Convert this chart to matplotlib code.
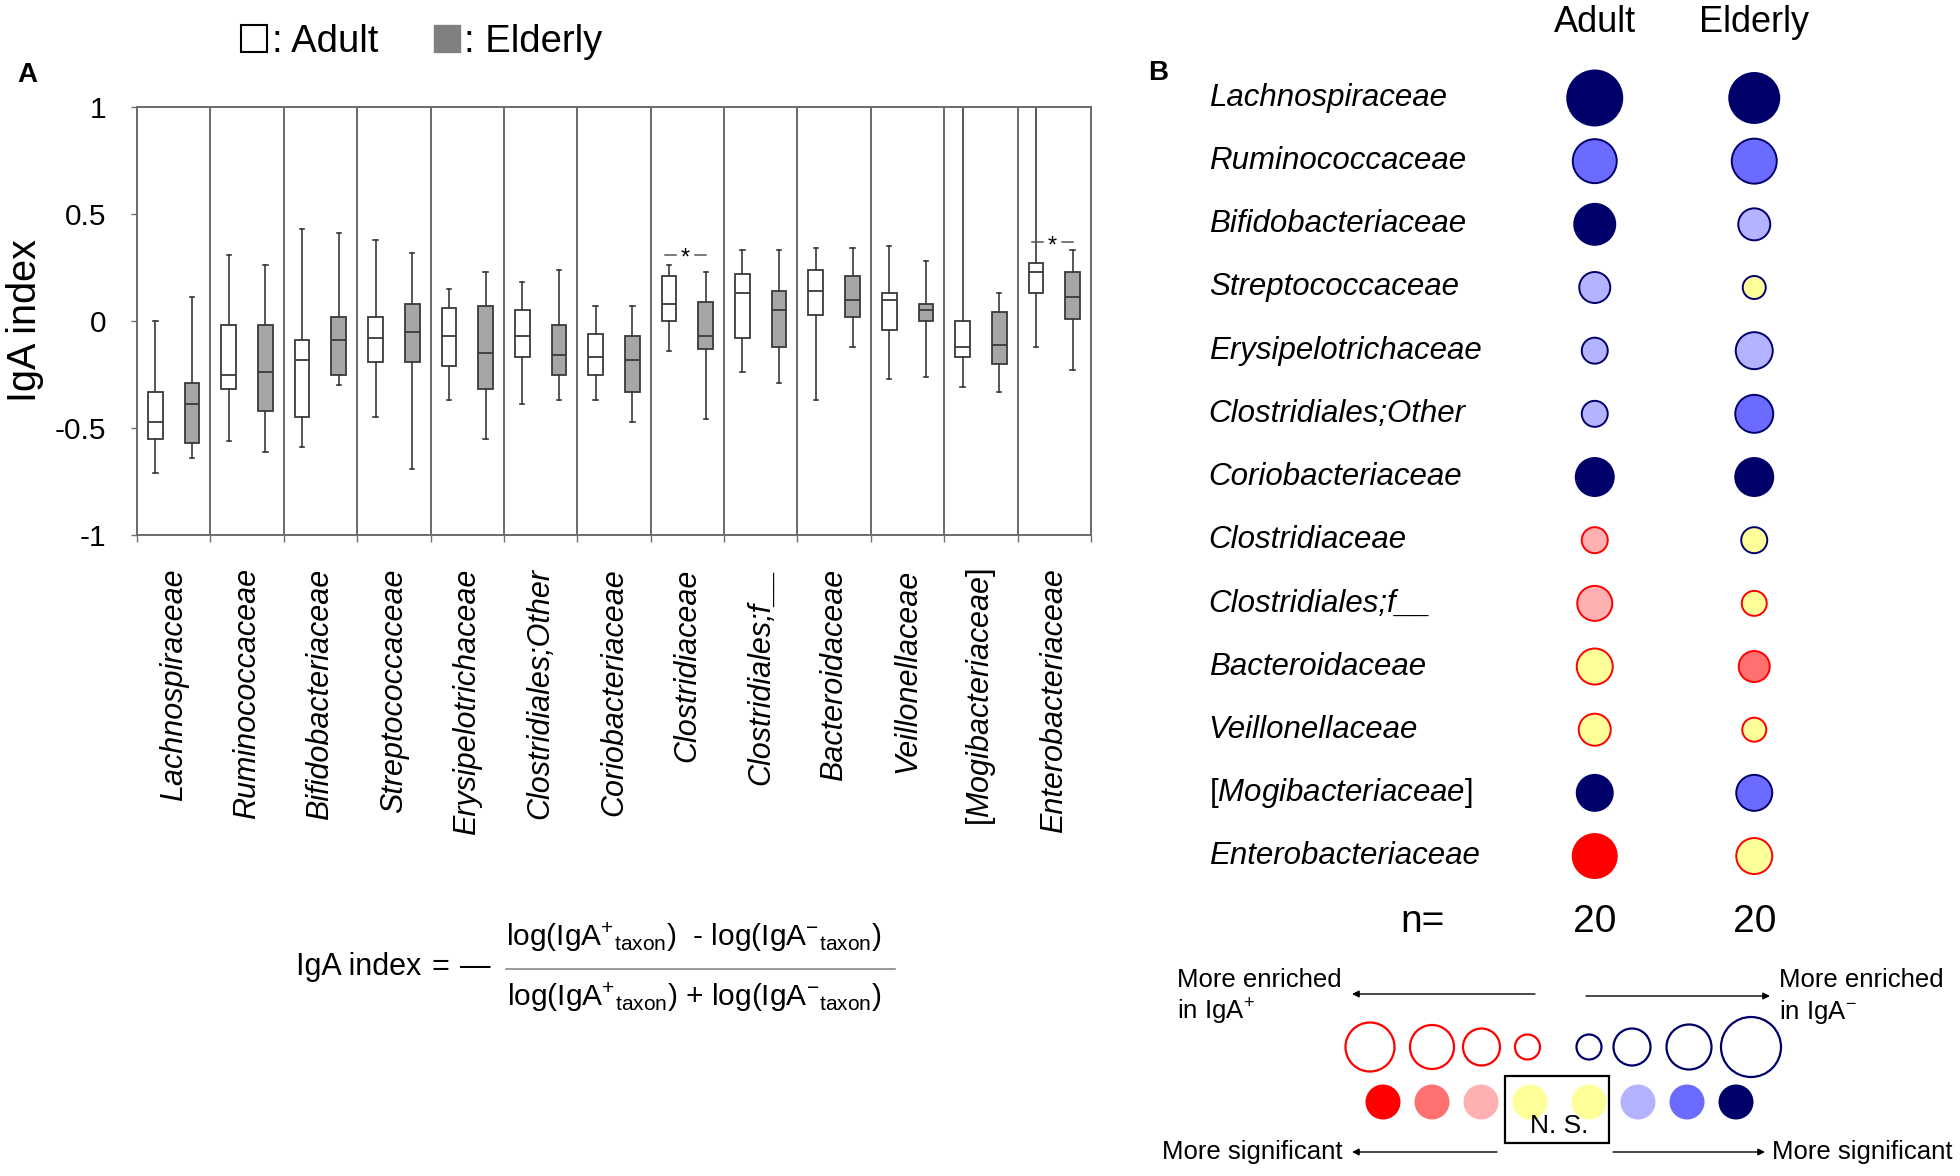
import numpy as np
import matplotlib
matplotlib.use("Agg")
import matplotlib.pyplot as plt
from matplotlib.patches import Patch, Rectangle
from matplotlib.lines import Line2D

plt.rcParams['font.family'] = ['Liberation Sans', 'DejaVu Sans']
plt.rcParams['mathtext.fontset'] = 'custom'
plt.rcParams['mathtext.rm'] = 'Liberation Sans'
plt.rcParams['mathtext.it'] = 'Liberation Sans:italic'

# ---- panel A data: box plot stats (whislo, q1, med, q3, whishi) ----
families = ['Lachnospiraceae', 'Ruminococcaceae', 'Bifidobacteriaceae',
            'Streptococcaceae', 'Erysipelotrichaceae', 'Clostridiales;Other',
            'Coriobacteriaceae', 'Clostridiaceae', 'Clostridiales;f__',
            'Bacteroidaceae', 'Veillonellaceae', '[Mogibacteriaceae]',
            'Enterobacteriaceae']
adult_box = [(-0.71, -0.55, -0.47, -0.33, 0.00),
             (-0.56, -0.32, -0.25, -0.02, 0.31),
             (-0.59, -0.45, -0.18, -0.09, 0.43),
             (-0.45, -0.19, -0.08, 0.02, 0.38),
             (-0.37, -0.21, -0.07, 0.06, 0.15),
             (-0.39, -0.17, -0.07, 0.05, 0.18),
             (-0.37, -0.25, -0.17, -0.06, 0.07),
             (-0.14, 0.00, 0.08, 0.21, 0.26),
             (-0.24, -0.08, 0.13, 0.22, 0.33),
             (-0.37, 0.03, 0.14, 0.24, 0.34),
             (-0.27, -0.04, 0.10, 0.13, 0.35),
             (-0.31, -0.17, -0.12, 0.00, 1.00),
             (-0.12, 0.13, 0.23, 0.27, 1.00)]
elderly_box = [(-0.64, -0.57, -0.39, -0.29, 0.11),
               (-0.61, -0.42, -0.24, -0.02, 0.26),
               (-0.30, -0.25, -0.09, 0.02, 0.41),
               (-0.69, -0.19, -0.05, 0.08, 0.32),
               (-0.55, -0.32, -0.15, 0.07, 0.23),
               (-0.37, -0.25, -0.16, -0.02, 0.24),
               (-0.47, -0.33, -0.18, -0.07, 0.07),
               (-0.46, -0.13, -0.07, 0.09, 0.23),
               (-0.29, -0.12, 0.05, 0.14, 0.33),
               (-0.12, 0.02, 0.10, 0.21, 0.34),
               (-0.26, 0.00, 0.05, 0.08, 0.28),
               (-0.33, -0.20, -0.11, 0.04, 0.13),
               (-0.23, 0.01, 0.11, 0.23, 0.33)]
sig_groups = [7, 12]
sig_y = [0.31, 0.37]

# ---- panel B data ----
# direction: '-' enriched in IgA-, '+' enriched in IgA+; level 0 = N.S.
adult_dir = ['-', '-', '-', '-', '-', '-', '-', '+', '+', '+', '+', '-', '+']
adult_level = [3, 2, 3, 1, 1, 1, 3, 1, 1, 0, 0, 3, 3]
adult_size = [55, 44, 41, 31, 26, 26, 38, 26, 35, 36, 32, 36, 44]
elderly_dir = ['-', '-', '-', '-', '-', '-', '-', '-', '+', '+', '+', '-', '+']
elderly_level = [3, 2, 1, 0, 1, 2, 3, 0, 0, 2, 0, 2, 0]
elderly_size = [50, 45, 32, 23, 37, 38, 38, 26, 25, 31, 24, 36, 36]
groups = ['Adult', 'Elderly']
n_samples = [20, 20]

key_outline_size = [49, 44, 37, 25, 25, 37, 45, 60]
key_outline_dir = ['+', '+', '+', '+', '-', '-', '-', '-']
key_fill_dir = ['+', '+', '+', '0', '0', '-', '-', '-']
key_fill_level = [3, 2, 1, 0, 0, 1, 2, 3]

NAVY = '#00006B'
RED = '#FF0000'
fill_colors = {'-': {1: '#B3B3FF', 2: '#6B6BFF', 3: NAVY},
               '+': {1: '#FFB0B0', 2: '#FF7070', 3: RED}}
YELLOW = '#FFFF99'


def fill_of(d, lev):
    return YELLOW if lev == 0 else fill_colors[d][lev]


def edge_of(d):
    return NAVY if d == '-' else RED


W, H = 1960, 1176
fig = plt.figure(figsize=(W / 100, H / 100), dpi=100)


def fx(px):
    return px / W


def fy(py):
    return 1 - py / H


# names in italics, square brackets upright
labels = ['[$\\mathit{' + f[1:-1] + '}$]' if f.startswith('[') else f for f in families]

# ================= panel A =================
ax = fig.add_axes([fx(137), fy(535), 954 / W, 428 / H])
x = np.arange(len(families))


def stats(rows):
    return [dict(whislo=r[0], q1=r[1], med=r[2], q3=r[3], whishi=r[4], fliers=[])
            for r in rows]


edge = '#3a3a3a'
for rows, off, face in [(adult_box, -0.25, 'white'), (elderly_box, 0.25, '#A6A6A6')]:
    ax.bxp(stats(rows), positions=x + off, widths=0.2, patch_artist=True,
           showfliers=False, manage_ticks=False, capwidths=0.06,
           boxprops=dict(facecolor=face, edgecolor=edge, lw=1.3),
           medianprops=dict(color=edge, lw=1.3),
           whiskerprops=dict(color=edge, lw=1.2),
           capprops=dict(color=edge, lw=1.2))

for b in x[:-1]:
    ax.axvline(b + 0.5, color='#6a6a6a', lw=1.4, zorder=0)

for g, yv in zip(sig_groups, sig_y):
    ax.plot([g - 0.3, g - 0.16], [yv, yv], color='#555555', lw=1.1)
    ax.plot([g + 0.11, g + 0.25], [yv, yv], color='#555555', lw=1.1)
    ax.text(g - 0.025, yv - 0.02, '*', ha='center', va='center', fontsize=17)

ax.set_xlim(-0.5, len(families) - 0.5)
ax.set_ylim(-1, 1)
ax.set_yticks([-1, -0.5, 0, 0.5, 1])
ax.set_yticklabels(['-1', '-0.5', '0', '0.5', '1'], fontsize=21.5)
ax.tick_params(axis='y', length=4, width=1, color='#707070', pad=18)
ax.set_xticks(np.arange(-0.5, len(families)), minor=False)
ax.set_xticklabels([])
ax.tick_params(axis='x', which='major', length=5, width=1, color='#707070')
ax.set_xticks(x, minor=True)
ax.set_xticklabels(labels, minor=True, rotation=90, fontsize=22, style='italic',
                   va='top')
for lbl, f in zip(ax.get_xticklabels(minor=True), families):
    if f.startswith('['):
        lbl.set_style('normal')
ax.tick_params(axis='x', which='minor', length=0, pad=24)
for s in ax.spines.values():
    s.set_color('#6a6a6a')
    s.set_linewidth(1.4)
ax.set_ylabel('IgA index', fontsize=28.5)
ax.yaxis.set_label_coords((44 - 137) / 954, 0.5)

fig.text(fx(27), fy(75), 'A', fontsize=20, fontweight='bold', ha='center', va='center')

fig.legend(handles=[Patch(facecolor='white', edgecolor='black', lw=1.5),
                    Patch(facecolor='#808080', edgecolor='#808080')],
           labels=[': Adult', ': Elderly'], loc='center',
           bbox_to_anchor=(fx(422), fy(42)), ncol=2, frameon=False, fontsize=27.5,
           handlelength=0.68, handleheight=0.68, handletextpad=0.12,
           columnspacing=1.45)

# formula
fig.text(fx(296), fy(967), 'IgA index', fontsize=22, ha='left', va='center')
fig.text(fx(431), fy(967), '=', fontsize=22, ha='left', va='center')
fig.text(fx(460), fy(967), '\u2014', fontsize=22, ha='left', va='center')
fig.text(fx(694), fy(937),
         r'log(IgA$^{+}{}_{\rm taxon}$)  - log(IgA$^{-}{}_{\rm taxon}$)',
         fontsize=21.5, ha='center', va='center')
fig.text(fx(694), fy(997),
         r'log(IgA$^{+}{}_{\rm taxon}$) + log(IgA$^{-}{}_{\rm taxon}$)',
         fontsize=21.5, ha='center', va='center')
fig.add_artist(Line2D([fx(506), fx(895)], [fy(969), fy(969)], color='#888888', lw=1.2))

# ================= panel B =================
axb = fig.add_axes([fx(1515), fy(950.8), 319 / W, (950.8 - 66.4) / H])
axb.set_xlim(-0.5, 1.5)
axb.set_ylim(13.5, -0.5)
axb.axis('off')
rows = np.arange(len(families))
for col, (dirs, levs, sizes) in enumerate([(adult_dir, adult_level, adult_size),
                                          (elderly_dir, elderly_level, elderly_size)]):
    axb.scatter(np.full(len(rows), col), rows,
                s=(np.array(sizes) * 0.72) ** 2,
                c=[fill_of(d, l) for d, l in zip(dirs, levs)],
                edgecolors=[edge_of(d) for d in dirs], linewidths=1.4, zorder=3)
    axb.text(col, -1.19, groups[col], fontsize=26, ha='center', va='center', clip_on=False)
    axb.text(col, 13.04, str(n_samples[col]), fontsize=28, ha='center', va='center',
             clip_on=False)
axb.text(-1.083, 13.04, 'n=', fontsize=28, ha='center', va='center', clip_on=False)
for i, f in enumerate(families):
    axb.text(-2.42, i, labels[i], fontsize=22.5,
             style='normal' if f.startswith('[') else 'italic',
             ha='left', va='center', clip_on=False)

fig.text(fx(1158), fy(73), 'B', fontsize=20, fontweight='bold', ha='center', va='center')

# key
axk = fig.add_axes([fx(1140), 0, 820 / W, 226 / H])
axk.set_xlim(1140, 1960)
axk.set_ylim(1176, 950)
axk.axis('off')
key_outline_x = [1370, 1432, 1481.5, 1527.5, 1589, 1632, 1689, 1751]
key_fill_x = [1383 + 49 * k + 10 * (k >= 4) for k in range(8)]
axk.scatter(key_outline_x, [1047] * 8, s=(np.array(key_outline_size) * 0.72) ** 2,
            facecolors='none', edgecolors=[edge_of(d) for d in key_outline_dir],
            linewidths=1.6, clip_on=False)
axk.scatter(key_fill_x, [1102] * 8, s=(35 * 0.72) ** 2,
            c=[fill_of(d, l) for d, l in zip(key_fill_dir, key_fill_level)],
            linewidths=0, clip_on=False)
axk.add_patch(Rectangle((1505, 1076), 104, 67, fill=False, edgecolor='black', lw=1.6))
axk.text(1559, 1126, 'N. S.', fontsize=19, ha='center', va='center')
arr = dict(arrowstyle='-|>', color='black', lw=1, mutation_scale=10, shrinkA=0, shrinkB=0)
axk.annotate('', xy=(1352, 994), xytext=(1535, 994), arrowprops=arr)
axk.annotate('', xy=(1770, 996), xytext=(1586, 996), arrowprops=arr)
axk.annotate('', xy=(1352, 1152), xytext=(1497, 1152), arrowprops=arr)
axk.annotate('', xy=(1765, 1152), xytext=(1613, 1152), arrowprops=arr)
axk.text(1177, 980, 'More enriched', fontsize=18.5, ha='left', va='center')
axk.text(1177, 1012, 'in IgA$^{+}$', fontsize=18.5, ha='left', va='center')
axk.text(1779, 980, 'More enriched', fontsize=18.5, ha='left', va='center')
axk.text(1779, 1012, 'in IgA$^{-}$', fontsize=18.5, ha='left', va='center')
axk.text(1343, 1152, 'More significant', fontsize=18.5, ha='right', va='center')
axk.text(1772, 1152, 'More significant', fontsize=18.5, ha='left', va='center')

fig.savefig('out.png', dpi=100)
